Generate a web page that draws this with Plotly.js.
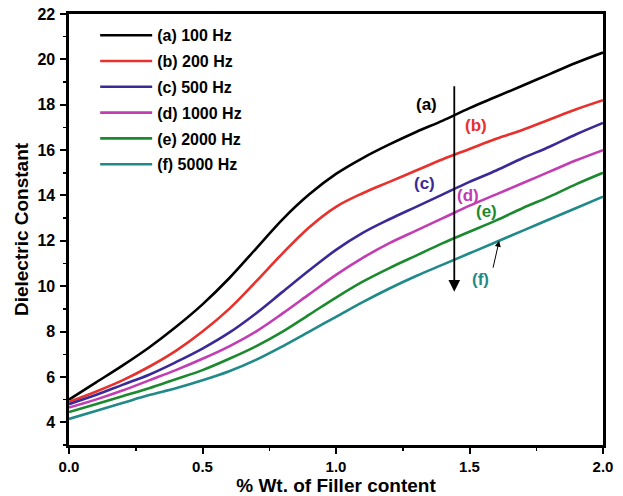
<!DOCTYPE html>
<html>
<head>
<meta charset="utf-8">
<script src="https://cdn.plot.ly/plotly-3.0.1.min.js"></script>
<style>html,body{margin:0;padding:0;background:#fff;}#chart{width:623px;height:496px;}</style>
</head>
<body>
<div id="chart"></div>
<script>
// Filler content (% wt.)
const fillerContent = [0, 0.1, 0.2, 0.3, 0.4, 0.5, 0.6, 0.7, 0.8, 0.9, 1.0, 1.1, 1.2, 1.3, 1.4, 1.5, 1.6, 1.7, 1.8, 1.9, 2.0];
// Dielectric constant per frequency
const dc100Hz  = [5.0, 5.75, 6.5, 7.3, 8.2, 9.2, 10.35, 11.65, 12.95, 14.05, 14.95, 15.65, 16.25, 16.8, 17.3, 17.85, 18.35, 18.85, 19.35, 19.85, 20.3];
const dc200Hz  = [4.9, 5.35, 5.85, 6.45, 7.15, 8.0, 9.0, 10.2, 11.45, 12.6, 13.5, 14.1, 14.6, 15.1, 15.6, 16.05, 16.5, 16.9, 17.35, 17.8, 18.2];
const dc500Hz  = [4.8, 5.2, 5.65, 6.1, 6.65, 7.25, 7.95, 8.8, 9.75, 10.7, 11.6, 12.35, 12.95, 13.5, 14.05, 14.6, 15.1, 15.65, 16.15, 16.7, 17.2];
const dc1000Hz = [4.65, 5.0, 5.4, 5.85, 6.3, 6.8, 7.35, 8.0, 8.8, 9.65, 10.5, 11.25, 11.9, 12.45, 13.0, 13.55, 14.05, 14.55, 15.05, 15.55, 16.0];
const dc2000Hz = [4.45, 4.8, 5.15, 5.5, 5.9, 6.3, 6.8, 7.35, 8.0, 8.75, 9.5, 10.2, 10.8, 11.35, 11.9, 12.4, 12.9, 13.45, 13.95, 14.5, 15.0];
const dc5000Hz = [4.15, 4.5, 4.85, 5.2, 5.5, 5.85, 6.25, 6.75, 7.35, 8.0, 8.65, 9.3, 9.9, 10.45, 10.95, 11.45, 11.95, 12.45, 12.95, 13.45, 13.95];

const seriesNames = ["(a) 100 Hz", "(b) 200 Hz", "(c) 500 Hz", "(d) 1000 Hz", "(e) 2000 Hz", "(f) 5000 Hz"];
const seriesLabels = ["(a)", "(b)", "(c)", "(d)", "(e)", "(f)"];
const seriesValues = [dc100Hz, dc200Hz, dc500Hz, dc1000Hz, dc2000Hz, dc5000Hz];
const colors = ["#000000", "#e8302c", "#3a2a98", "#c23cb2", "#1b8a2e", "#1f8a88"];

// Curve label positions
const labelX = [1.34, 1.524, 1.331, 1.496, 1.562, 1.543];
const labelY = [18.0, 17.07, 14.54, 13.98, 13.29, 10.28];

const FONT = "Arial, 'Liberation Sans', sans-serif";

const traces = seriesValues.map((vals, i) => ({
  x: fillerContent,
  y: vals,
  type: "scatter",
  mode: "lines",
  name: seriesNames[i],
  legendgroup: "g" + i,
  line: {color: colors[i], width: 2.6, shape: "spline", smoothing: 1.0}
}));

const annotations = seriesLabels.map((t, i) => ({
  x: labelX[i], y: labelY[i], xref: "x", yref: "y",
  text: t, showarrow: false,
  font: {family: FONT, size: 17, color: colors[i], weight: "bold"}
}));

// Long downward arrow (increasing frequency)
annotations.push({
  x: 1.443, y: 9.76, ax: 1.443, ay: 18.88, xref: "x", yref: "y", axref: "x", ayref: "y",
  text: "", showarrow: true, arrowhead: 2, arrowsize: 1.3, arrowwidth: 1.8, arrowcolor: "#000"
});
// Small arrow pointing to curve (f)
annotations.push({
  x: 1.611, y: 12.0, ax: 1.587, ay: 10.75, xref: "x", yref: "y", axref: "x", ayref: "y",
  text: "", showarrow: true, arrowhead: 2, arrowsize: 1.2, arrowwidth: 1, arrowcolor: "#000"
});

const axisCommon = {
  showgrid: false, zeroline: false,
  showline: true, linecolor: "#000", linewidth: 2.6, mirror: true,
  ticks: "outside", ticklen: 6, tickwidth: 2, tickcolor: "#000",
  tickfont: {family: FONT, size: 16, color: "#000", weight: "bold"}
};

const layout = {
  width: 623, height: 496,
  margin: {l: 69, r: 20, t: 14, b: 51},
  paper_bgcolor: "#fff", plot_bgcolor: "#fff",
  showlegend: true,
  legend: {
    x: 0.049, y: 0.99, xanchor: "left", yanchor: "top",
    bgcolor: "rgba(0,0,0,0)", borderwidth: 0,
    font: {family: FONT, size: 16, color: "#000", weight: "bold"},
    tracegroupgap: 2, itemwidth: 52
  },
  xaxis: Object.assign({}, axisCommon, {
    range: [0, 2], tickmode: "linear", tick0: 0, dtick: 0.5, tickformat: ".1f",
    tickfont: {family: FONT, size: 15, color: "#000", weight: "bold"},
    minor: {dtick: 0.25, ticks: "outside", ticklen: 3, tickwidth: 1.5, tickcolor: "#000"},
    title: {text: "% Wt. of Filler content", font: {family: FONT, size: 19, color: "#000", weight: "bold"}, standoff: 8}
  }),
  yaxis: Object.assign({}, axisCommon, {
    range: [3, 22], tickmode: "linear", tick0: 0, dtick: 2, ticklabelstandoff: 2,
    minor: {dtick: 1, ticks: "outside", ticklen: 3, tickwidth: 1.5, tickcolor: "#000"},
    title: {text: "Dielectric Constant", font: {family: FONT, size: 19, color: "#000", weight: "bold"}, standoff: 4}
  }),
  annotations: annotations
};

Plotly.newPlot("chart", traces, layout, {displayModeBar: false, staticPlot: true});
</script>
</body>
</html>
